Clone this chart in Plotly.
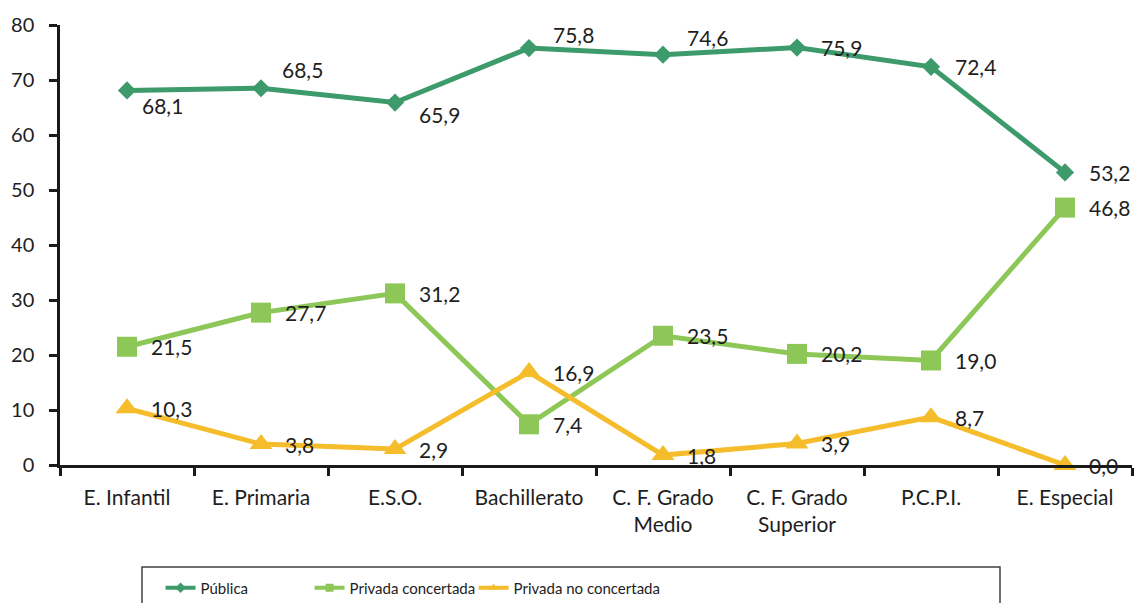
import plotly.graph_objects as go

# Niveles de enseñanza (eje X)
niveles = ["E. Infantil", "E. Primaria", "E.S.O.", "Bachillerato",
           "C. F. Grado<br>Medio", "C. F. Grado<br>Superior", "P.C.P.I.", "E. Especial"]

# Porcentaje de alumnado por titularidad del centro
publica = [68.1, 68.5, 65.9, 75.8, 74.6, 75.9, 72.4, 53.2]
privada_concertada = [21.5, 27.7, 31.2, 7.4, 23.5, 20.2, 19.0, 46.8]
privada_no_concertada = [10.3, 3.8, 2.9, 16.9, 1.8, 3.9, 8.7, 0.0]

y_ticks = [0, 10, 20, 30, 40, 50, 60, 70, 80]

FONT = "Lato, 'Open Sans', sans-serif"
TXT = "#1e1e1e"

# desplazamientos (px) de las etiquetas de la serie pública
dx_publica = [13, 19, 22, 22, 22, 22, 22, 22]
dy_publica = [-15, 19, -12, 14, 17, 0, 0, 0]
dx_base = [22] * len(niveles)
dy_base = [0] * len(niveles)

series = [
    ("Pública", publica, "#3d9a6a", "diamond", 14, dx_publica, dy_publica, "legend", 0.0938),
    ("Privada concertada", privada_concertada, "#8dc757", "square", 20, dx_base, dy_base, "legend2", 0.2328),
    ("Privada no concertada", privada_no_concertada, "#f5bd2c", "triangle-up", 20, dx_base, dy_base, "legend3", 0.3858),
]


def etiqueta(v):
    return f"{v:.1f}".replace(".", ",")


fig = go.Figure()
annotations = []
legends = {}
for name, vals, color, symbol, size, dxs, dys, leg, leg_x in series:
    fig.add_trace(go.Scatter(
        x=niveles, y=vals, name=name, showlegend=False,
        mode="lines+markers",
        line=dict(color=color, width=5),
        marker=dict(symbol=symbol, size=size, color=color),
        cliponaxis=False,
    ))
    # entrada de leyenda con marcador reducido
    fig.add_trace(go.Scatter(
        x=[None], y=[None], name=name, mode="lines+markers", legend=leg,
        line=dict(color=color, width=4),
        marker=dict(symbol=symbol, size=8, color=color),
    ))
    legends[leg] = dict(
        orientation="h", x=leg_x, xanchor="left",
        y=-0.242, yanchor="top",
        font=dict(family=FONT, size=15, color=TXT),
        bgcolor="rgba(0,0,0,0)",
    )
    for cat, v, dx, dy in zip(niveles, vals, dxs, dys):
        annotations.append(dict(
            x=cat, y=v, xref="x", yref="y",
            text=etiqueta(v), showarrow=False,
            xanchor="left", yanchor="middle",
            xshift=dx, yshift=dy,
            font=dict(family=FONT, size=21, color=TXT),
        ))

fig.update_layout(
    width=1136, height=603,
    margin=dict(l=60, r=4, t=25, b=138, autoexpand=False),
    paper_bgcolor="white", plot_bgcolor="white",
    font=dict(family=FONT, size=21, color=TXT),
    showlegend=True,
    annotations=annotations,
    shapes=[dict(
        type="rect", xref="paper", yref="paper",
        xsizemode="pixel", ysizemode="pixel", xanchor=0, yanchor=0,
        x0=82, x1=940, y0=-102, y1=-160,
        line=dict(color="#404040", width=1.5), fillcolor="rgba(0,0,0,0)",
        layer="below",
    )],
    **legends,
)

fig.update_xaxes(
    type="category", range=[-0.5, 7.5],
    showline=True, linecolor="#1a1a1a", linewidth=2.5,
    ticks="outside", tickson="boundaries", ticklen=8, tickwidth=2.5, tickcolor="#1a1a1a",
    ticklabelstandoff=12,
    showgrid=False, zeroline=False,
    tickfont=dict(family=FONT, size=21, color=TXT),
)
fig.update_yaxes(
    range=[0, 80], tickvals=y_ticks,
    showline=True, linecolor="#1a1a1a", linewidth=2.5,
    ticks="outside", ticklen=8, tickwidth=2.5, tickcolor="#1a1a1a",
    ticklabelstandoff=11,
    showgrid=False, zeroline=False,
    tickfont=dict(family=FONT, size=20, color=TXT),
)

fig.write_html("out.html")
